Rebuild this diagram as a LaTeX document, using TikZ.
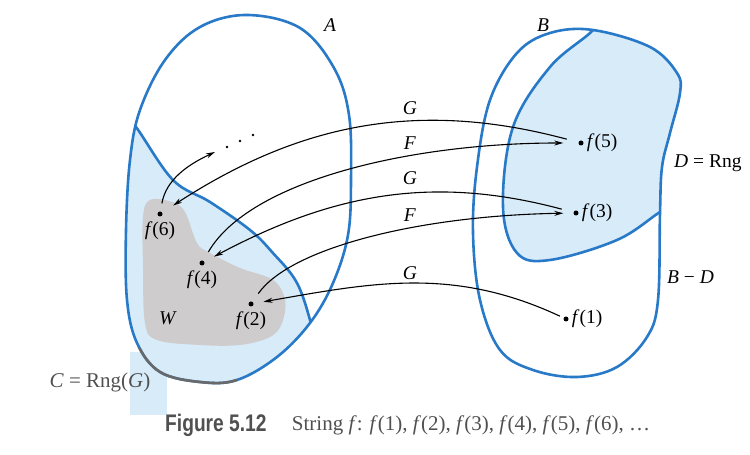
\documentclass[tikz,border=0pt]{standalone}
\usepackage{fontspec}
\setmainfont{Liberation Serif}
\newfontfamily\capfont[FakeStretch=0.8]{Liberation Sans}
\usetikzlibrary{arrows.meta,positioning}
\definecolor{setblue}{RGB}{40,122,200}
\definecolor{setfill}{RGB}{215,235,249}
\definecolor{wgrey}{RGB}{206,204,204}
\definecolor{rimgrey}{RGB}{105,105,105}
\definecolor{capgrey}{RGB}{80,80,80}
\tikzset{
  rim/.style={draw=setblue,line width=2.6pt},
  pt/.style={circle,fill=black,inner sep=0pt,minimum size=5pt},
  lab/.style={font=\fontsize{19.5}{22}\selectfont,inner sep=2pt},
  map/.style={-{Stealth[length=9pt,width=5pt]},line width=1.1pt},
}
% outlines of the two sets
\def\setA{plot[smooth cycle,tension=0.6] coordinates {(247,440) (300,427) (334,387) (349,340) (351,275) (348,220) (333,172) (310,132) (277,98) (237,75) (200,73) (160,83) (137,112) (127,155) (126,225) (130,295) (140,345) (165,395) (200,428)}}
\def\setB{plot[smooth cycle,tension=0.6] coordinates {(593,425) (650,408) (677,382) (680,362) (670,322) (662,288) (660,242) (658,155) (647,118) (617,88) (577,78) (533,85) (500,105) (480,155) (473,222) (477,288) (490,355) (517,402) (550,422)}}
\def\rngG{plot[smooth,tension=0.6] coordinates {(118,348) (136,328) (173,275) (210,253) (250,225) (272,203) (297,172) (312,128) (318,100)}}
\def\rngF{plot[smooth,tension=0.6] coordinates {(600,445) (593,425) (550,388) (513,328) (503,248) (517,202) (550,195) (617,215) (660,243) (685,258)}}
\begin{document}
\begin{tikzpicture}[x=1pt,y=1pt]
\useasboundingbox (0,0) rectangle (750,455);
\fill[white] (0,0) rectangle (750,455);
\fill[setfill] (130,40) rectangle (167,103);
% C = Rng(G) inside A
\begin{scope}
  \clip \setA;
  \fill[setfill] \rngG -- (400,40) -- (100,40) -- cycle;
  \fill[wgrey] plot[smooth cycle,tension=0.6] coordinates {(150,255) (172,253) (185,243) (197,212) (210,202) (240,187) (273,175) (285,155) (282,132) (270,118) (240,110) (200,110) (157,115) (145,132) (143,188) (143,238)};
  \draw[rim] \rngG;
\end{scope}
% D inside B
\begin{scope}
  \clip \setB;
  \fill[setfill] \rngF -- (720,258) -- (720,460) -- cycle;
  \draw[rim] \rngF;
\end{scope}
\draw[rim] \setA;
\draw[rim] \setB;
\begin{scope}
  \clip (100,60) rectangle (237,106);
  \draw[rim,draw=rimgrey] \setA;
\end{scope}
% points of the string
\node[pt,label={[lab,label distance=3pt]below:\textit{f}(6)}] (f6) at (160,241) {};
\node[pt,label={[lab,label distance=3pt]below:\textit{f}(4)}] (f4) at (202,192) {};
\node[pt,label={[lab,label distance=3pt]below:\textit{f}(2)}] (f2) at (251,151) {};
\node[pt,label={[lab,label distance=1pt]right:\textit{f}(5)}] (f5) at (581,312) {};
\node[pt,label={[lab,label distance=1pt]right:\textit{f}(3)}] (f3) at (576,242) {};
\node[pt,label={[lab,label distance=1pt]right:\textit{f}(1)}] (f1) at (566,136) {};
\node[lab] (w) at (168,137) {\textit{W}};
% more points
\foreach \i in {0,1,2}
  \fill (227+13*\i,308+6*\i) circle (1.4pt);
\coordinate (more) at (215,303);
% maps
\draw[map,shorten <=12pt,shorten >=13pt] (f5) to[out=165,in=33] (f6);
\draw[map,shorten <=10pt,shorten >=15pt] (f4) to[out=60,in=180,out looseness=0.6,in looseness=1.1] (f5);
\draw[map,shorten <=12pt,shorten >=11pt] (f3) to[out=165,in=28] (f4);
\draw[map,shorten <=10pt,shorten >=10pt] (f2) to[out=55,in=181,out looseness=0.5,in looseness=1.2] (f3);
\draw[map,shorten <=4pt,shorten >=10pt] (f1) to[out=155,in=10] (f2);
\draw[map,shorten <=8pt] (f6) to[out=80,in=205] (more);
\node[lab] (g1) at (410,347) {\textit{G}};
\node[lab] (f1l) at (410,312) {\textit{F}};
\node[lab] (g2) at (410,277) {\textit{G}};
\node[lab] (f2l) at (410,240) {\textit{F}};
\node[lab] (g3) at (410,182) {\textit{G}};
% set names
\node[lab] (a) at (330,430) {\textit{A}};
\node[lab] (b) at (543,430) {\textit{B}};
\node[lab,anchor=west] (d) at (672,292) {\textit{D} = Rng};
\node[lab,anchor=west] (bd) at (665,178) {\textit{B} − \textit{D}};
\node[lab,text=capgrey,font=\fontsize{21}{24}\selectfont] (c) at (100,73) {\textit{C} = Rng(\textit{G})};
% caption
\node[anchor=west,inner sep=0pt,text=capgrey,font=\capfont\bfseries\fontsize{24}{26}\selectfont] (figno) at (165,30) {Figure 5.12};
\node[lab,anchor=west,text=capgrey,font=\fontsize{21}{24}\selectfont,right=23pt of figno.east] (figtxt) {String \textit{f}: \textit{f}(1), \textit{f}(2), \textit{f}(3), \textit{f}(4), \textit{f}(5), \textit{f}(6), \ldots};
\end{tikzpicture}
\end{document}
